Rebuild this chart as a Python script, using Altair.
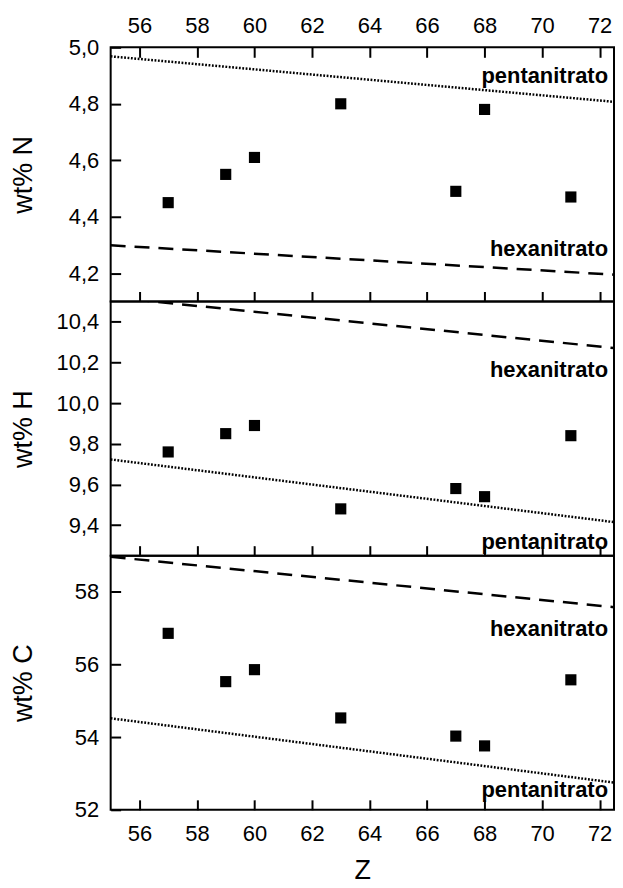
import altair as alt
import pandas as pd

# ---- data ----
Z = [57, 59, 60, 63, 67, 68, 71]
wt_N = [4.45, 4.55, 4.61, 4.80, 4.49, 4.78, 4.47]
wt_H = [9.76, 9.85, 9.89, 9.48, 9.58, 9.54, 9.84]
wt_C = [56.86, 55.53, 55.86, 54.53, 54.03, 53.76, 55.58]

Z_line = [55, 72.5]
N_penta = [4.968, 4.807]
N_hexa = [4.299, 4.195]
H_penta = [9.723, 9.415]
H_hexa = [10.521, 10.271]
C_penta = [54.52, 52.75]
C_hexa = [58.97, 57.58]

x_ticks = [56, 58, 60, 62, 64, 66, 68, 70, 72]
N_ticks = [4.2, 4.4, 4.6, 4.8, 5.0]
H_ticks = [9.4, 9.6, 9.8, 10.0, 10.2, 10.4]
C_ticks = [52, 54, 56, 58]

N_labels = ["pentanitrato", "hexanitrato"]
N_label_y = [4.90, 4.284]
H_labels = ["hexanitrato", "pentanitrato"]
H_label_y = [10.165, 9.315]
C_labels = ["hexanitrato", "pentanitrato"]
C_label_y = [56.97, 52.54]
label_x = 72.5

FONT = "Liberation Sans"
W, H = 505, 255
XDOM = [55, 72.5]


def panel(ytitle, yvals, ydom, yticks, fmt, penta, hexa, labels, label_y,
          top=False, bottom=False):
    xscale = alt.Scale(domain=XDOM, nice=False, zero=False)
    yscale = alt.Scale(domain=ydom, nice=False, zero=False)

    bottom_axis_kw = dict(orient="bottom", values=x_ticks, offset=-10, tickSize=10,
                          tickWidth=2, tickColor="black", domain=False, grid=False,
                          labelFlush=False)
    if bottom:
        bottom_axis = alt.Axis(labels=True, labelFontSize=22, labelPadding=14,
                               labelColor="black", labelFont=FONT,
                               title="Z", titleFontSize=27, titleFontWeight="normal",
                               titleFont=FONT, titleColor="black", titlePadding=13,
                               **bottom_axis_kw)
    else:
        bottom_axis = alt.Axis(labels=False, title=None, **bottom_axis_kw)

    yaxis = alt.Axis(values=yticks, offset=-10, tickSize=10, tickWidth=2,
                     tickColor="black", domain=False, grid=False,
                     labelExpr=f"replace(format(datum.value, '{fmt}'), '.', ',')",
                     labelFontSize=22, labelPadding=12, labelColor="black",
                     labelFont=FONT, labelFlush=False,
                     title=ytitle, titleFontSize=27, titleFontWeight="normal",
                     titleFont=FONT, titleColor="black",
                     titleX=-89, titleBaseline="alphabetic")

    pts_df = pd.DataFrame({"z": Z, "v": yvals})
    pts = alt.Chart(pts_df).mark_point(shape="square", filled=True, size=125,
                                       color="black", opacity=1).encode(
        x=alt.X("z:Q", scale=xscale, axis=bottom_axis),
        y=alt.Y("v:Q", scale=yscale, axis=yaxis),
    )

    def xenc():
        if top:
            return alt.X("z:Q", scale=xscale, axis=None)
        return alt.X("z:Q", scale=xscale)

    pen_df = pd.DataFrame({"z": Z_line, "v": penta})
    hex_df = pd.DataFrame({"z": Z_line, "v": hexa})
    pen = alt.Chart(pen_df).mark_line(color="black", strokeWidth=2.5,
                                      strokeDash=[1.8, 1.6], clip=True).encode(
        x=xenc(),
        y=alt.Y("v:Q", scale=yscale),
    )
    hexl = alt.Chart(hex_df).mark_line(color="black", strokeWidth=2.5,
                                       strokeDash=[15, 9], clip=True).encode(
        x=xenc(),
        y=alt.Y("v:Q", scale=yscale),
    )

    txt_df = pd.DataFrame({"z": [label_x] * len(labels), "v": label_y, "t": labels})
    if top:
        top_axis = alt.Axis(orient="top", values=x_ticks, offset=-10, tickSize=10,
                            tickWidth=2, tickColor="black", domain=False, grid=False,
                            labelFontSize=22, labelPadding=10, labelColor="black",
                            labelFont=FONT, labelFlush=False, title=None)
        tx = alt.X("z:Q", scale=xscale, axis=top_axis)
    else:
        tx = alt.X("z:Q", scale=xscale)
    txt = alt.Chart(txt_df).mark_text(align="right", baseline="middle", dx=-6,
                                      fontWeight="bold", fontSize=22, font=FONT,
                                      color="black").encode(
        x=tx,
        y=alt.Y("v:Q", scale=yscale),
        text="t:N",
    )

    layer = alt.layer(pts, hexl, pen, txt).properties(width=W, height=H)
    if top:
        layer = layer.resolve_axis(x="independent")
    return layer


p1 = panel("wt% N", wt_N, [4.1, 5.0], N_ticks, ".1f", N_penta, N_hexa,
           N_labels, N_label_y, top=True)
p2 = panel("wt% H", wt_H, [9.25, 10.5], H_ticks, ".1f", H_penta, H_hexa,
           H_labels, H_label_y)
p3 = panel("wt% C", wt_C, [52, 59], C_ticks, "d", C_penta, C_hexa,
           C_labels, C_label_y, bottom=True)

chart = alt.vconcat(p1, p2, p3, spacing=0, bounds="flush").properties(
    padding={"left": 0, "top": 4, "right": 0, "bottom": 0}
).configure(
    font=FONT
).configure_view(
    stroke="black", strokeWidth=2
)

chart.save("out.html", embed_options={"renderer": "svg", "actions": False})
